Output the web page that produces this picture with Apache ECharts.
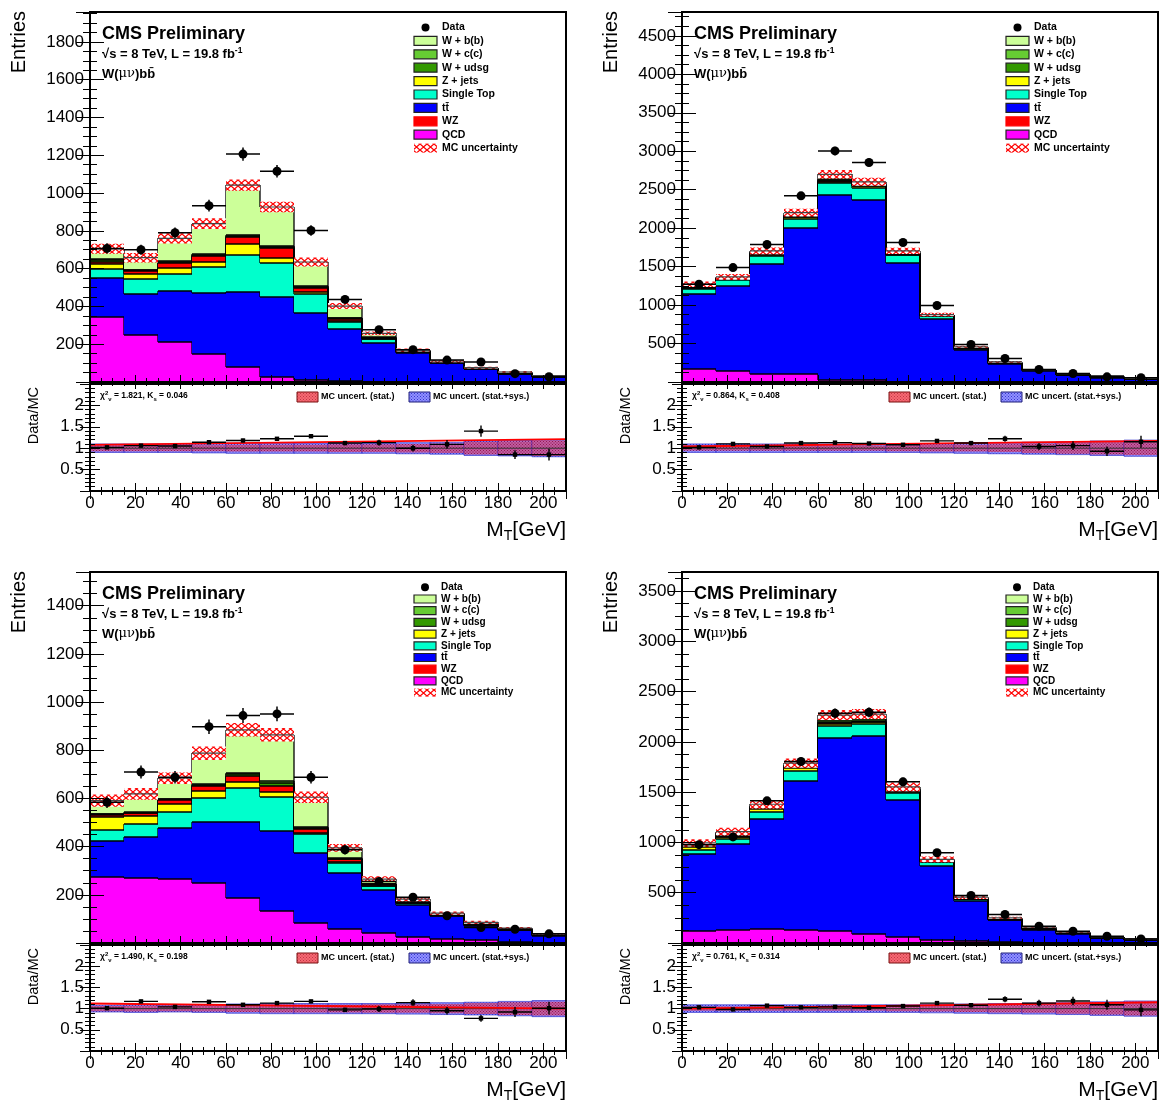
<!DOCTYPE html>
<html><head><meta charset="utf-8">
<script src="https://cdn.jsdelivr.net/npm/echarts@6/dist/echarts.min.js"></script>
<style>html,body{margin:0;padding:0;background:#fff}#c{width:1164px;height:1103px}</style>
</head><body><div id="c"></div>
<script>
const FONT = '"Liberation Sans", Arial, Helvetica, sans-serif';
const binLow = [0,15,30,45,60,75,90,105,120,135,150,165,180,195];
const BIN_W = 15;
const X_MAX = 210;
const xTickLabels = [0,20,40,60,80,100,120,140,160,180,200];

const stackNames  = ['QCD','tt\u0304','Single Top','Z + jets','WZ','W + udsg','W + c(c)','W + b(b)'];
const stackColors = ['#ff00ff','#0000ff','#00ffcc','#ffff00','#ff0000','#339900','#66cc33','#ccff99'];
const legendNames = ['Data','W + b(b)','W + c(c)','W + udsg','Z + jets','Single Top','tt\u0304','WZ','QCD','MC uncertainty'];

// ---------- Top-left ----------
const TL_qcd  = [344,247,213,146,81,26,11,3,1,1,0,0,0,0];
const TL_tt   = [204,220,268,323,395,424,352,276,207,151,99,67,41,26];
const TL_st   = [48,76,92,141,194,178,104,40,18,7,4,2,2,1];
const TL_zj   = [27,30,32,25,58,30,9,4,2,1,1,1,1,0];
const TL_wz   = [14,14,23,30,39,49,20,9,3,2,1,1,1,1];
const TL_udsg = [7,4,7,6,6,6,6,5,4,2,2,1,1,1];
const TL_cc   = [5,3,5,4,5,5,4,3,3,1,1,1,1,0];
const TL_bb   = [56,64,120,163,264,208,129,62,19,4,3,3,6,5];
const TL_data = [707,700,790,933,1206,1115,802,437,277,171,116,106,44,28];
const TL_dataErr = [27,26,28,31,35,33,28,21,17,13,11,10,7,5];
const TL_mcUnc = [26,25,27,28,30,28,24,16,10,8,6,5,4,3];
const TL_ratio = [1.02,1.06,1.05,1.14,1.18,1.22,1.28,1.12,1.13,1.0,1.09,1.4,0.85,0.85];
const TL_ratioErr = [0.04,0.04,0.04,0.04,0.04,0.04,0.04,0.05,0.07,0.08,0.1,0.13,0.1,0.14];
const TL_statUnc = [0.07,0.07,0.07,0.07,0.08,0.08,0.08,0.09,0.09,0.1,0.11,0.15,0.16,0.18];
const TL_totUnc  = [0.1,0.1,0.1,0.11,0.12,0.12,0.12,0.12,0.12,0.13,0.14,0.17,0.18,0.2];
const TL_fit = [1.08, 1.21];

// ---------- Top-right ----------
const TR_qcd  = [175,145,110,101,32,23,5,2,1,1,0,0,0,0];
const TR_tt   = [975,1100,1430,1906,2400,2349,1548,823,412,230,145,88,58,36];
const TR_st   = [61,78,104,117,156,156,95,31,22,12,7,5,3,2];
const TR_zj   = [12,10,12,15,14,14,8,4,3,2,1,1,1,1];
const TR_wz   = [5,6,8,10,10,10,6,3,2,1,1,1,1,1];
const TR_udsg = [8,10,12,14,14,14,9,4,3,2,1,1,1,1];
const TR_cc   = [8,8,10,12,12,12,8,3,2,2,1,2,1,1];
const TR_bb   = [27,10,19,28,62,24,26,7,12,11,6,12,10,6];
const TR_data = [1271,1487,1787,2420,3004,2853,1813,994,487,305,162,110,67,55];
const TR_dataErr = [36,39,42,49,55,53,43,32,22,17,13,10,8,7];
const TR_mcUnc = [37,38,45,50,55,52,40,22,15,10,7,5,4,3];
const TR_ratio = [1.02,1.1,1.04,1.12,1.13,1.11,1.08,1.17,1.12,1.22,1.04,1.06,0.93,1.15];
const TR_ratioErr = [0.03,0.03,0.03,0.02,0.02,0.02,0.03,0.04,0.05,0.07,0.08,0.1,0.11,0.14];
const TR_statUnc = [0.06,0.06,0.06,0.06,0.06,0.06,0.07,0.08,0.08,0.09,0.11,0.13,0.15,0.16];
const TR_totUnc  = [0.1,0.1,0.1,0.1,0.1,0.1,0.1,0.11,0.12,0.13,0.14,0.15,0.17,0.19];
const TR_fit = [1.04, 1.17];

// ---------- Bottom-left ----------
const BL_qcd  = [276,269,265,251,186,131,82,57,41,23,16,12,3,2];
const BL_tt   = [148,170,211,250,315,335,291,233,180,135,97,59,49,29];
const BL_st   = [46,55,69,100,142,139,80,44,16,7,4,3,2,1];
const BL_zj   = [52,33,31,28,27,21,4,2,1,1,1,1,1,0];
const BL_wz   = [10,12,18,21,25,27,15,12,5,2,1,1,1,1];
const BL_udsg = [2,2,2,6,6,12,5,2,2,1,1,1,1,1];
const BL_cc   = [2,2,1,4,4,9,4,1,1,1,1,1,0,0];
const BL_bb   = [55,76,87,128,180,190,124,44,19,12,3,8,5,4];
const BL_data = [584,710,688,898,944,951,688,387,255,190,113,64,57,38];
const BL_dataErr = [24,27,26,30,31,31,26,20,16,14,11,8,8,6];
const BL_mcUnc = [25,24,24,28,28,28,24,16,12,9,7,6,4,3];
const BL_ratio = [1.01,1.17,1.04,1.16,1.09,1.13,1.17,0.97,0.99,1.14,0.95,0.77,0.92,1.01];
const BL_ratioErr = [0.04,0.04,0.04,0.04,0.04,0.04,0.04,0.05,0.07,0.08,0.09,0.08,0.12,0.15];
const BL_statUnc = [0.06,0.07,0.06,0.07,0.08,0.09,0.09,0.09,0.1,0.1,0.11,0.13,0.15,0.16];
const BL_totUnc  = [0.08,0.09,0.08,0.09,0.11,0.12,0.12,0.12,0.12,0.13,0.14,0.15,0.17,0.19];
const BL_fit = [1.12, 1.0];

// ---------- Bottom-right ----------
const BR_qcd  = [124,134,144,131,118,94,58,31,24,5,2,1,0,0];
const BR_tt   = [758,847,1086,1481,1919,1960,1362,735,392,219,132,93,51,31];
const BR_st   = [46,50,76,100,117,129,76,40,17,8,5,3,2,1];
const BR_zj   = [30,24,24,27,23,12,9,4,3,2,1,1,1,1];
const BR_wz   = [8,8,8,8,10,8,6,4,2,2,1,1,1,1];
const BR_udsg = [12,16,14,13,16,10,10,5,3,3,2,2,1,1];
const BR_cc   = [10,12,12,12,14,10,8,4,3,3,2,2,1,1];
const BR_bb   = [7,17,16,17,50,54,24,9,12,8,12,8,7,5];
const BR_data = [978,1055,1414,1805,2284,2294,1603,898,473,284,167,117,67,41];
const BR_dataErr = [31,32,38,42,48,48,40,30,22,17,13,11,8,6];
const BR_mcUnc = [36,38,42,46,50,50,44,28,18,12,8,6,4,3];
const BR_ratio = [1.03,0.98,1.07,1.03,1.04,1.02,1.06,1.13,1.08,1.22,1.13,1.18,1.09,0.97];
const BR_ratioErr = [0.03,0.03,0.03,0.02,0.02,0.02,0.03,0.04,0.05,0.07,0.08,0.1,0.12,0.15];
const BR_statUnc = [0.05,0.05,0.05,0.05,0.05,0.05,0.06,0.07,0.08,0.09,0.1,0.12,0.14,0.16];
const BR_totUnc  = [0.09,0.09,0.09,0.09,0.09,0.09,0.09,0.1,0.11,0.12,0.13,0.14,0.16,0.18];
const BR_fit = [1.0, 1.15];

const chi2Values = ['1.821','0.864','1.490','0.761'];
const ksValues   = ['0.046','0.408','0.198','0.314'];
const yMaxValues = [1958, 4810, 1540, 3690];
const yIntervals = [200, 500, 200, 500];

// ---------- layout ----------
const W = 476;
const panels = [
  {left:90,  mainTop:12,  mainH:370, ratioTop:384, ratioH:107, big:true,
   comps:[TL_qcd,TL_tt,TL_st,TL_zj,TL_wz,TL_udsg,TL_cc,TL_bb], data:TL_data, dataErr:TL_dataErr, mcUnc:TL_mcUnc,
   ratio:TL_ratio, ratioErr:TL_ratioErr, stat:TL_statUnc, tot:TL_totUnc, fit:TL_fit},
  {left:682, mainTop:12,  mainH:370, ratioTop:384, ratioH:107, big:true,
   comps:[TR_qcd,TR_tt,TR_st,TR_zj,TR_wz,TR_udsg,TR_cc,TR_bb], data:TR_data, dataErr:TR_dataErr, mcUnc:TR_mcUnc,
   ratio:TR_ratio, ratioErr:TR_ratioErr, stat:TR_statUnc, tot:TR_totUnc, fit:TR_fit},
  {left:90,  mainTop:572, mainH:371, ratioTop:945, ratioH:106, big:false,
   comps:[BL_qcd,BL_tt,BL_st,BL_zj,BL_wz,BL_udsg,BL_cc,BL_bb], data:BL_data, dataErr:BL_dataErr, mcUnc:BL_mcUnc,
   ratio:BL_ratio, ratioErr:BL_ratioErr, stat:BL_statUnc, tot:BL_totUnc, fit:BL_fit},
  {left:682, mainTop:572, mainH:371, ratioTop:945, ratioH:106, big:false,
   comps:[BR_qcd,BR_tt,BR_st,BR_zj,BR_wz,BR_udsg,BR_cc,BR_bb], data:BR_data, dataErr:BR_dataErr, mcUnc:BR_mcUnc,
   ratio:BR_ratio, ratioErr:BR_ratioErr, stat:BR_statUnc, tot:BR_totUnc, fit:BR_fit}
];

// hatch pattern (MC uncertainty)
const hatch = document.createElement('canvas');
hatch.width = 7; hatch.height = 6;
(function(){
  const c = hatch.getContext('2d');
  c.fillStyle = '#ffffff'; c.fillRect(0,0,7,6);
  c.strokeStyle = '#ff0000'; c.lineWidth = 1.3;
  c.beginPath(); c.moveTo(0,0); c.lineTo(7,6); c.moveTo(7,0); c.lineTo(0,6); c.stroke();
})();
const hatchFill = {image: hatch, repeat: 'repeat'};

// dotted textures for the ratio bands
function dotPattern(bg, dot) {
  const cv = document.createElement('canvas');
  cv.width = 3; cv.height = 3;
  const c = cv.getContext('2d');
  c.fillStyle = bg; c.fillRect(0,0,3,3);
  c.fillStyle = dot; c.fillRect(0,0,1,1); c.fillRect(1.5,1.5,1,1);
  return {image: cv, repeat: 'repeat'};
}
const blueBand = dotPattern('rgba(110,110,255,0.75)', 'rgba(30,30,200,0.8)');
const redBand  = dotPattern('rgba(235,50,80,0.55)', 'rgba(140,0,30,0.5)');
const redLegend = dotPattern('rgba(245,90,100,0.9)', 'rgba(160,20,40,0.6)');

const R = Math.round;

function stackRender(comps) {
  return function (params, api) {
    const i = params.dataIndex;
    const x0 = api.value(0), x1 = x0 + BIN_W;
    const fills = [], lines = [];
    let cum = 0, cumNext = 0;
    const nComp = comps.length;
    for (let k = 0; k < nComp; k++) {
      const v = api.value(k + 1);
      const lo = cum; cum += v;
      const pa = api.coord([x0, cum]), pb = api.coord([x1, lo]);
      if (v > 0) {
        fills.push({type:'rect', shape:{x:R(pa[0]), y:R(pa[1]), width:R(pb[0])-R(pa[0]), height:R(pb[1])-R(pa[1])},
          style:{fill: stackColors[k]}});
      }
      const pTopR = api.coord([x1, cum]);
      lines.push({type:'line', shape:{x1:R(pa[0]), y1:R(pa[1]), x2:R(pTopR[0]), y2:R(pTopR[1])},
        style:{stroke:'#000', lineWidth:1.3}});
      if (i + 1 < binLow.length) {
        cumNext += comps[k][i + 1];
        const pn = api.coord([x1, cumNext]);
        lines.push({type:'line', shape:{x1:R(pTopR[0]), y1:R(pTopR[1]), x2:R(pn[0]), y2:R(pn[1])},
          style:{stroke:'#000', lineWidth:1.3}});
      }
      if (i === 0) {
        const p0 = api.coord([x0, 0]);
        lines.push({type:'line', shape:{x1:R(pa[0]), y1:R(pa[1]), x2:R(p0[0]), y2:R(p0[1])},
          style:{stroke:'#000', lineWidth:1.3}});
      }
    }
    return {type:'group', children: fills.concat(lines)};
  };
}

function hatchRender(params, api) {
  const x0 = api.value(0), x1 = x0 + BIN_W, t = api.value(1), u = api.value(2);
  const a = api.coord([x0, t + u]), b = api.coord([x1, t - u]), c = api.coord([x1, t]);
  return {type:'group', children:[
    {type:'rect', shape:{x:R(a[0]), y:a[1], width:R(b[0])-R(a[0]), height:b[1]-a[1]}, style:{fill: hatchFill}},
    {type:'line', shape:{x1:R(a[0]), y1:c[1], x2:R(c[0]), y2:c[1]}, style:{stroke:'#444', lineWidth:1.2}}
  ]};
}

function pointRender(markerR, square, lw) {
  return function (params, api) {
    const xc = api.value(0), y = api.value(1), e = api.value(2);
    const pL = api.coord([xc - BIN_W / 2, y]), pR = api.coord([xc + BIN_W / 2, y]);
    const pT = api.coord([xc, y + e]), pB = api.coord([xc, y - e]), pc = api.coord([xc, y]);
    const marker = square
      ? {type:'rect', shape:{x:pc[0]-markerR, y:pc[1]-markerR, width:2*markerR, height:2*markerR}, style:{fill:'#000'}}
      : {type:'circle', shape:{cx:pc[0], cy:pc[1], r:markerR}, style:{fill:'#000'}};
    return {type:'group', children:[
      {type:'line', shape:{x1:pL[0], y1:pL[1], x2:pR[0], y2:pR[1]}, style:{stroke:'#000', lineWidth:lw}},
      {type:'line', shape:{x1:pT[0], y1:pT[1], x2:pB[0], y2:pB[1]}, style:{stroke:'#000', lineWidth:lw}},
      marker
    ]};
  };
}

function bandRender(params, api) {
  const x0 = api.value(0), x1 = x0 + BIN_W, s = api.value(1), t = api.value(2);
  const ta = api.coord([x0, 1 + t]), tb = api.coord([x1, 1 - t]);
  const sa = api.coord([x0, 1 + s]), sb = api.coord([x1, 1 - s]);
  const one = api.coord([x0, 1]);
  return {type:'group', children:[
    {type:'rect', shape:{x:R(ta[0]), y:ta[1], width:R(tb[0])-R(ta[0]), height:tb[1]-ta[1]},
      style:{fill:blueBand, stroke:'rgba(40,40,200,0.8)', lineWidth:0.8}},
    {type:'rect', shape:{x:R(sa[0]), y:sa[1], width:R(sb[0])-R(sa[0]), height:sb[1]-sa[1]},
      style:{fill:redBand}},
    {type:'line', shape:{x1:R(ta[0]), y1:one[1], x2:R(tb[0]), y2:one[1]}, style:{stroke:'#333', lineWidth:1}}
  ]};
}

const grids = [], xAxes = [], yAxes = [], series = [], graphics = [];

function mkX(gi, pos, showLabel, majorLen, minorLen) {
  return {type:'value', gridIndex:gi, position:pos, min:0, max:X_MAX, interval:20, z:10,
    axisLine:{show:false}, splitLine:{show:false}, minorSplitLine:{show:false},
    axisTick:{show:true, inside:true, length:majorLen, lineStyle:{color:'#000', width:1}},
    minorTick:{show:true, splitNumber:4, length:minorLen, lineStyle:{color:'#000', width:1}},
    axisLabel:{show:showLabel, margin:4, color:'#000', fontSize:17, fontFamily:FONT,
      formatter: v => (xTickLabels.indexOf(v) >= 0 ? String(v) : '')}};
}
function mkY(gi, pos, showLabel, max, interval, minorSplit, majorLen, minorLen, fmt) {
  return {type:'value', gridIndex:gi, position:pos, min:0, max:max, interval:interval, z:10,
    axisLine:{show:false}, splitLine:{show:false}, minorSplitLine:{show:false},
    axisTick:{show:true, inside:true, length:majorLen, lineStyle:{color:'#000', width:1}},
    minorTick:{show:true, splitNumber:minorSplit, length:minorLen, lineStyle:{color:'#000', width:1}},
    axisLabel:{show:showLabel, margin:6, color:'#000', fontSize:17, fontFamily:FONT, formatter: fmt}};
}

panels.forEach((p, pi) => {
  const gMain = grids.length;
  grids.push({left:p.left, top:p.mainTop, width:W, height:p.mainH, show:false, outerBoundsMode:'none', containLabel:false});
  const gRat = grids.length;
  grids.push({left:p.left, top:p.ratioTop, width:W, height:p.ratioH, show:false, outerBoundsMode:'none', containLabel:false});

  const yInt = yIntervals[pi];
  const mainFmt = v => (v > 0 && v % yInt === 0 && v < yMaxValues[pi]) ? String(v) : '';
  const ratFmt = v => (v > 0.01 && v < 2.4 && Math.abs(v * 2 - Math.round(v * 2)) < 1e-6) ? String(+v.toFixed(1)) : '';

  const xm = xAxes.length;
  xAxes.push(mkX(gMain, 'bottom', false, 7, 4));
  xAxes.push(mkX(gMain, 'top', false, 7, 4));
  const ym = yAxes.length;
  yAxes.push(mkY(gMain, 'left', true, yMaxValues[pi], yInt, 4, 14, 7, mainFmt));
  yAxes.push(mkY(gMain, 'right', false, yMaxValues[pi], yInt, 4, 14, 7, mainFmt));
  const xr = xAxes.length;
  xAxes.push(mkX(gRat, 'bottom', true, 8, 4));
  xAxes.push(mkX(gRat, 'top', false, 8, 4));
  const yr = yAxes.length;
  yAxes.push(mkY(gRat, 'left', true, 2.5, 0.5, 5, 10, 5, ratFmt));
  yAxes.push(mkY(gRat, 'right', false, 2.5, 0.5, 5, 10, 5, ratFmt));

  const totals = binLow.map((x, i) => p.comps.reduce((s, c) => s + c[i], 0));

  series.push({type:'custom', xAxisIndex:xm, yAxisIndex:ym, clip:true, z:2, silent:true,
    data: binLow.map((x, i) => [x].concat(p.comps.map(c => c[i]))),
    renderItem: stackRender(p.comps)});
  series.push({type:'custom', xAxisIndex:xm, yAxisIndex:ym, clip:true, z:3, silent:true,
    data: binLow.map((x, i) => [x, totals[i], p.mcUnc[i]]), renderItem: hatchRender});
  series.push({type:'custom', xAxisIndex:xm, yAxisIndex:ym, clip:true, z:4, silent:true,
    data: binLow.map((x, i) => [x + BIN_W / 2, p.data[i], p.dataErr[i]]), renderItem: pointRender(4.5, false, 1.5)});

  series.push({type:'custom', xAxisIndex:xr, yAxisIndex:yr, clip:true, z:2, silent:true,
    data: binLow.map((x, i) => [x, p.stat[i], p.tot[i]]), renderItem: bandRender});
  series.push({type:'line', xAxisIndex:xr, yAxisIndex:yr, z:3, silent:true, symbol:'none',
    lineStyle:{color:'#ff0000', width:1.8}, data:[[0, p.fit[0]], [X_MAX, p.fit[1]]]});
  series.push({type:'custom', xAxisIndex:xr, yAxisIndex:yr, clip:true, z:4, silent:true,
    data: binLow.map((x, i) => [x + BIN_W / 2, p.ratio[i], p.ratioErr[i]]), renderItem: pointRender(2.2, true, 1.4)});

  // frames
  graphics.push({type:'rect', z:100, shape:{x:p.left, y:p.mainTop, width:W, height:p.mainH},
    style:{fill:null, stroke:'#000', lineWidth:2}});
  graphics.push({type:'rect', z:100, shape:{x:p.left, y:p.ratioTop, width:W, height:p.ratioH},
    style:{fill:null, stroke:'#000', lineWidth:2}});

  // axis titles
  graphics.push({type:'text', z:100, x:p.left - 71, y:p.mainTop - 1, rotation:Math.PI / 2,
    style:{text:'Entries', fill:'#000', fontSize:20, fontFamily:FONT, align:'right', verticalAlign:'middle'}});
  graphics.push({type:'text', z:100, x:p.left - 56, y:p.ratioTop + 3, rotation:Math.PI / 2,
    style:{text:'Data/MC', fill:'#000', fontSize:14.5, fontFamily:FONT, align:'right', verticalAlign:'middle'}});
  graphics.push({type:'text', z:100, x:p.left + W, y:p.ratioTop + p.ratioH + 39,
    style:{text:'{a|M}{b|T}{a|[GeV]}', align:'right', verticalAlign:'middle', fill:'#000',
      rich:{a:{fontSize:21, fontFamily:FONT, lineHeight:26, fill:'#000'},
            b:{fontSize:14, fontFamily:FONT, lineHeight:12, verticalAlign:'bottom', fill:'#000'}}}});

  // header texts
  const tx = p.left + 12;
  graphics.push({type:'text', z:100, x:tx, y:p.mainTop + 22,
    style:{text:'CMS Preliminary', fill:'#000', fontSize:18, fontWeight:'bold', fontFamily:FONT, align:'left', verticalAlign:'middle'}});
  graphics.push({type:'text', z:100, x:tx, y:p.mainTop + 42,
    style:{text:'{a|\u221As = 8 TeV, L = 19.8 fb}{s|-1}', align:'left', verticalAlign:'middle',
      rich:{a:{fontSize:13, fontWeight:'bold', fontFamily:FONT, lineHeight:16, fill:'#000'},
            s:{fontSize:8.5, fontWeight:'bold', fontFamily:FONT, lineHeight:8, verticalAlign:'top', fill:'#000'}}}});
  graphics.push({type:'text', z:100, x:tx, y:p.mainTop + 62,
    style:{text:'{a|W(}{g|\u03BC\u03BD}{a|)bb\u0304}', align:'left', verticalAlign:'middle',
      rich:{a:{fontSize:13, fontWeight:'bold', fontFamily:FONT, fill:'#000'},
            g:{fontSize:13, fontFamily:'"DejaVu Serif", serif', fill:'#000'}}}});

  // legend
  const ly0 = p.mainTop + (p.big ? 15.5 : 15.3);
  const ldy = p.big ? 13.4 : 11.7;
  const bh = p.big ? 9 : 8, bw = p.big ? 23 : 22;
  const bx = p.left + 324;
  const lfs = p.big ? 10.5 : 10;
  legendNames.forEach((name, k) => {
    const y = ly0 + k * ldy;
    if (k === 0) {
      graphics.push({type:'circle', z:100, shape:{cx:bx + bw / 2, cy:y, r:4}, style:{fill:'#000'}});
    } else if (k === legendNames.length - 1) {
      graphics.push({type:'rect', z:100, shape:{x:bx, y:y - bh / 2, width:bw, height:bh}, style:{fill:hatchFill}});
    } else {
      const ci = stackNames.indexOf(name);
      graphics.push({type:'rect', z:100, shape:{x:bx, y:y - bh / 2, width:bw, height:bh},
        style:{fill:stackColors[ci], stroke: name === 'WZ' ? stackColors[ci] : '#222', lineWidth:1.2}});
    }
    graphics.push({type:'text', z:100, x:bx + bw + 5, y:y,
      style:{text:name, fill:'#000', fontSize:lfs, fontWeight:'bold', fontFamily:FONT, align:'left', verticalAlign:'middle'}});
  });

  // ratio legend
  const ry = p.ratioTop + 13;
  graphics.push({type:'rect', z:100, shape:{x:p.left + 207, y:ry - 5, width:21, height:10},
    style:{fill:redLegend, stroke:'#7a1010', lineWidth:1}});
  graphics.push({type:'text', z:100, x:p.left + 231, y:ry,
    style:{text:'MC uncert. (stat.)', fill:'#000', fontSize:9, fontWeight:'bold', fontFamily:FONT, align:'left', verticalAlign:'middle'}});
  graphics.push({type:'rect', z:100, shape:{x:p.left + 319, y:ry - 5, width:21, height:10},
    style:{fill:blueBand, stroke:'#20207a', lineWidth:1}});
  graphics.push({type:'text', z:100, x:p.left + 343, y:ry,
    style:{text:'MC uncert. (stat.+sys.)', fill:'#000', fontSize:9, fontWeight:'bold', fontFamily:FONT, align:'left', verticalAlign:'middle'}});
  graphics.push({type:'text', z:100, x:p.left + 10, y:ry - 1,
    style:{text:'{a|\u03C7}{p|2}{q|\u03BD}{a| = ' + chi2Values[pi] + ', K}{q|s}{a| = ' + ksValues[pi] + '}',
      align:'left', verticalAlign:'middle',
      rich:{a:{fontSize:8.5, fontWeight:'bold', fontFamily:FONT, lineHeight:12, fill:'#000'},
            p:{fontSize:6, fontWeight:'bold', fontFamily:FONT, lineHeight:6, verticalAlign:'top', fill:'#000'},
            q:{fontSize:6, fontWeight:'bold', fontFamily:FONT, lineHeight:5, verticalAlign:'bottom', fill:'#000'}}}});
});

const chart = echarts.init(document.getElementById('c'), null, {renderer:'canvas'});
chart.setOption({
  animation:false,
  backgroundColor:'#ffffff',
  grid:grids, xAxis:xAxes, yAxis:yAxes, series:series,
  graphic:{elements:graphics}
});
</script>
</body></html>
